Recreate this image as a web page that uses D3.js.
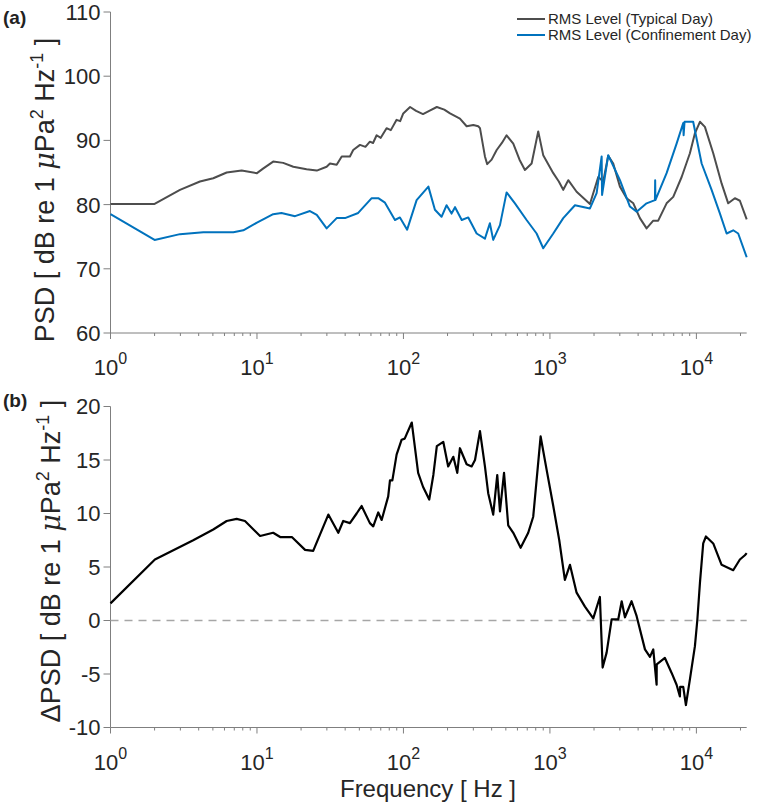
<!DOCTYPE html>
<html><head><meta charset="utf-8">
<script src="https://cdn.jsdelivr.net/npm/d3@7"></script>
<style>
body{margin:0;background:#fff;}
svg{display:block;font-family:"Liberation Sans",Arial,sans-serif;}
</style></head>
<body><svg id="c" width="758" height="806"></svg>
<script>
// ---------- data ----------
const typicalFreq = [1,2,2.98,4.08,5.03,6.21,7.86,10,11,12.9,15.1,17.7,21.8,25.6,29.9,31.5,35,37.9,43.1,45.4,50.5,55,59,62,65.6,70,76.7,82,89.8,95,99.7,111,122,136,150,169,190,208,243,270,300,324,333,360,373,400,433,470,506,562,620,675,750,832,900,1054,1150,1233,1334,1521,1700,1876,2137,2312,2500,2705,3006,3340,3710,4115,4570,5075,5485,6260,6950,7930,9030,9770,10570,11430,13030,14860,16490,18310,19810,22050];
const typicalDb   = [80.1,80.1,82.3,83.6,84.1,85.0,85.3,84.9,85.6,86.7,86.5,85.9,85.5,85.3,85.9,86.4,86.2,87.5,87.5,88.5,89.3,89.0,89.8,89.6,90.8,90.4,91.9,91.6,93.2,93.0,94.2,95.2,94.6,94.1,94.6,95.2,94.8,94.2,93.4,92.2,92.4,92.2,91.9,87.5,86.3,87.0,88.5,89.6,90.8,89.5,87.0,85.4,86.4,91.4,87.7,84.9,83.6,82.3,83.8,82.0,81.0,80.1,84.3,83.6,87.6,86.4,82.8,81.0,80.2,77.9,76.3,77.5,77.5,80.2,81.2,84.3,88.0,91.1,92.9,92.1,88.0,83.3,80.2,81.0,80.6,77.7];

const confFreq = [1,2,2.98,4.3,6.9,8.07,10,12.9,14.7,18.2,23,25.6,29.9,35,39.9,49.1,60.7,67.3,74.8,87.5,94.6,106,123,148,164,182,197,213,225,250,277,316,360,389,410,456,506,577,693,811,900,1054,1233,1482,1876,2084,2255,2270,2500,3006,3517,3909,4570,5210,5230,5250,6260,7325,8130,8180,8300,9505,10860,12700,14480,16080,17840,19290,22050];
const confDb   = [78.5,74.5,75.4,75.7,75.7,76.0,77.2,78.5,78.7,78.2,79.0,78.4,76.3,77.9,77.9,78.7,81.0,81.0,80.3,77.6,78.0,76.1,80.7,82.8,79.2,78.1,79.9,78.6,79.6,77.6,78.0,75.5,74.7,77.1,74.5,76.8,81.9,80.2,77.6,75.5,73.2,75.5,77.9,79.9,79.4,81.8,87.5,81.5,87.7,83.8,79.7,78.9,80.2,80.7,83.8,80.7,84.9,89.5,92.7,90.8,92.9,92.9,86.4,82.3,78.6,75.5,76.0,75.5,71.8];

const deltaFreq = [1,2.01,3.67,5.03,6.21,7.27,8.28,10.5,12.9,14.4,17.3,21.3,24.2,30.7,35.9,38.8,43.1,47.9,51.8,59,62.2,67.3,71,78.7,80.9,84,89.8,97.2,102,105,114,126,136,150,160,169,187,202,219,233,243,270,292,308,333,360,379,410,437,456,486,519,562,631,711,769,864,949,1054,1158,1265,1370,1521,1734,1976,2193,2290,2438,2638,2926,3090,3252,3610,3909,4455,4817,5075,5350,5360,6095,6775,7325,7715,7750,8130,8480,9030,9770,10140,10570,11130,11620,13030,14860,17840,19810,21430,22050];
const deltaDb   = [1.6,5.7,7.5,8.5,9.3,9.5,9.3,7.9,8.2,7.8,7.8,6.6,6.5,9.9,8.2,9.3,9.1,10.0,10.7,9.1,8.8,10.1,9.4,11.6,13.1,13.1,15.5,16.9,17.0,17.4,18.5,13.8,12.5,11.3,13.6,16.3,16.7,14.4,15.3,13.8,16.1,14.6,14.4,15.0,17.7,14.4,11.9,9.9,13.6,10.2,13.8,8.9,8.2,6.8,8.2,9.7,17.2,14.1,10.7,7.5,3.8,5.2,2.6,1.3,0.2,2.2,-4.4,-3.0,0.1,0.1,1.8,0.3,1.8,0.4,-2.7,-3.4,-2.7,-6.0,-4.1,-3.5,-4.9,-6.0,-7.1,-6.2,-6.2,-7.9,-5.5,-2.4,0,3.5,7.2,7.85,7.2,5.2,4.7,5.7,6.1,6.3];

const xTickExps = [0,1,2,3,4];
const yTicksA = [60,70,80,90,100,110];
const yTicksB = [-10,-5,0,5,10,15,20];
const legendLabels = ["RMS Level (Typical Day)","RMS Level (Confinement Day)"];

// ---------- drawing ----------
const svg = d3.select("#c");
const axisCol = "#7f7f7f", textCol = "#262626";
const x = d3.scaleLog().domain([1,22050]).range([110.5,746.7]);
const yA = d3.scaleLinear().domain([60,110]).range([333,12]);
const yB = d3.scaleLinear().domain([-10,20]).range([727.5,406.5]);

function minorTicks(){
  const t=[];
  for(let e=0;e<=4;e++) for(let m=2;m<=9;m++){const v=m*Math.pow(10,e); if(v<=22050) t.push(v);}
  return t;
}

function drawPanel(y, yTicks, yLabelPre, letter, letterY, labX, labCy){
  const g = svg.append("g");
  const [y0,y1] = y.range();
  g.append("line").attr("x1",x.range()[0]).attr("x2",x.range()[0]).attr("y1",y0).attr("y2",y1).attr("stroke",axisCol).attr("stroke-width",1);
  g.append("line").attr("x1",x.range()[0]).attr("x2",x.range()[1]).attr("y1",y0).attr("y2",y0).attr("stroke",axisCol).attr("stroke-width",1);
  yTicks.forEach(v=>{
    g.append("line").attr("x1",x.range()[0]-7).attr("x2",x.range()[0]).attr("y1",y(v)).attr("y2",y(v)).attr("stroke",axisCol);
    g.append("text").attr("x",x.range()[0]-10).attr("y",y(v)).attr("dy","0.36em").attr("text-anchor","end")
      .attr("font-size",22).attr("fill",textCol).text(v);
  });
  xTickExps.forEach(e=>{
    const xv = x(Math.pow(10,e));
    g.append("line").attr("x1",xv).attr("x2",xv).attr("y1",y0).attr("y2",y0+6).attr("stroke",axisCol);
    const t = g.append("text").attr("x",xv).attr("y",y0+42).attr("text-anchor","middle").attr("fill",textCol).attr("font-size",22);
    t.append("tspan").text("10");
    t.append("tspan").attr("font-size",16).attr("dy",-11).text(e);
  });
  minorTicks().forEach(v=>{
    g.append("line").attr("x1",x(v)).attr("x2",x(v)).attr("y1",y0).attr("y2",y0+3).attr("stroke",axisCol);
  });
  const lab = g.append("text").attr("transform",`translate(${labX},${labCy}) rotate(-90)`)
    .attr("text-anchor","middle").attr("font-size",27).attr("fill",textCol);
  lab.append("tspan").text(yLabelPre+" [ dB re 1 ");
  lab.append("tspan").attr("font-family","DejaVu Serif").attr("font-style","italic").text("μ");
  lab.append("tspan").text("Pa");
  lab.append("tspan").attr("font-size",18).attr("dy",-11).text("2");
  lab.append("tspan").attr("dy",11).text(" Hz");
  lab.append("tspan").attr("font-size",18).attr("dy",-11).text("-1");
  lab.append("tspan").attr("dy",11).text(" ]");
  svg.append("text").attr("x",3).attr("y",letterY).attr("font-size",19).attr("font-weight","bold")
    .attr("fill","#222").text(letter);
}

drawPanel(yA, yTicksA, "PSD", "(a)", 24, 54, 190);
drawPanel(yB, yTicksB, "ΔPSD", "(b)", 407, 60, 561);

const lineA = d3.line().x(d=>x(d[0])).y(d=>yA(d[1]));
svg.append("path").datum(typicalFreq.map((f,i)=>[f,typicalDb[i]]))
  .attr("d",lineA).attr("fill","none").attr("stroke","#4d4d4d").attr("stroke-width",2).attr("stroke-linejoin","round");
svg.append("path").datum(confFreq.map((f,i)=>[f,confDb[i]]))
  .attr("d",lineA).attr("fill","none").attr("stroke","#0072bd").attr("stroke-width",2).attr("stroke-linejoin","round");

const legCols = ["#4d4d4d","#0072bd"];
legendLabels.forEach((l,i)=>{
  const ly = 19 + i*16;
  svg.append("line").attr("x1",517).attr("x2",545).attr("y1",ly).attr("y2",ly).attr("stroke",legCols[i]).attr("stroke-width",2);
  svg.append("text").attr("x",548).attr("y",ly).attr("dy","0.36em").attr("font-size",15).attr("fill",textCol).text(l);
});

svg.append("line").attr("x1",x.range()[0]).attr("x2",x.range()[1]).attr("y1",yB(0)).attr("y2",yB(0))
  .attr("stroke","#a6a6a6").attr("stroke-width",1.3).attr("stroke-dasharray","8,6");
const lineB = d3.line().x(d=>x(d[0])).y(d=>yB(d[1]));
svg.append("path").datum(deltaFreq.map((f,i)=>[f,deltaDb[i]]))
  .attr("d",lineB).attr("fill","none").attr("stroke","#000").attr("stroke-width",2.2).attr("stroke-linejoin","round");

svg.append("text").attr("x",428).attr("y",797).attr("text-anchor","middle").attr("font-size",24).attr("fill",textCol).text("Frequency [ Hz ]");
</script></body></html>
